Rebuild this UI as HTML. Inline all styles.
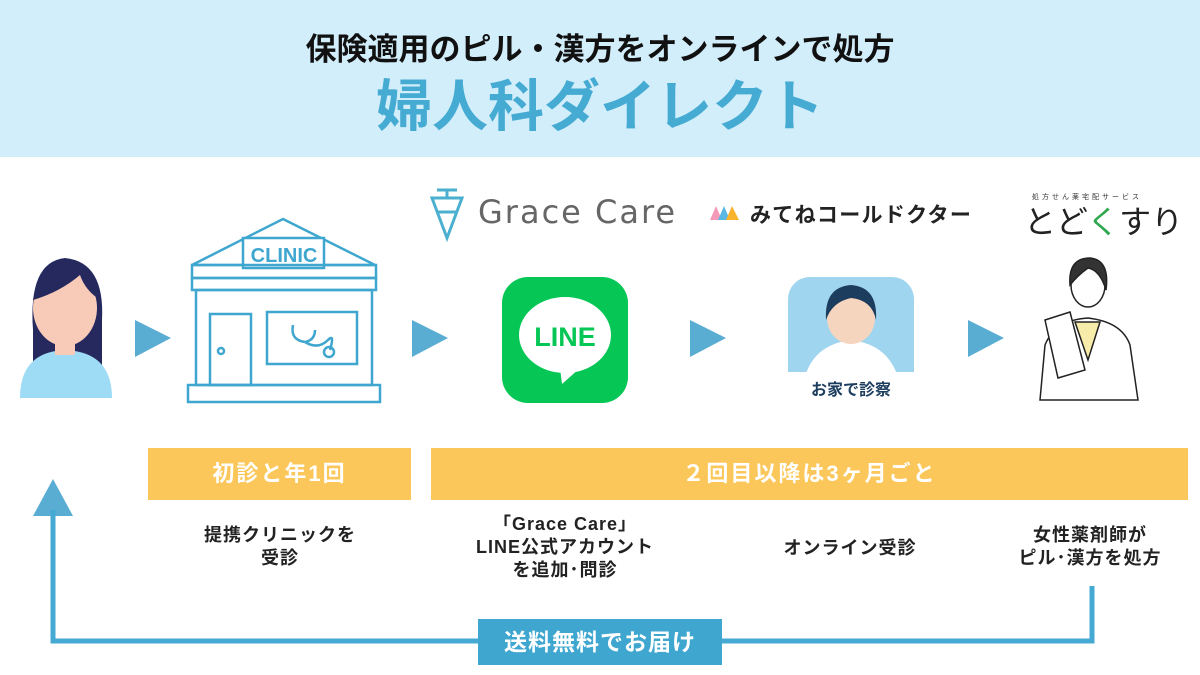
<!DOCTYPE html>
<html><head><meta charset="utf-8"><style>
body{margin:0;width:1200px;height:675px;overflow:hidden;background:#fff;font-family:"Liberation Sans","Noto Sans CJK JP",sans-serif;position:relative}
.hd{position:absolute;left:0;top:0;width:1200px;height:157px;background:#d3eefb}
.t1{position:absolute;top:24px;width:1200px;text-align:center;font-size:31px;font-weight:bold;color:#111;letter-spacing:0px}
.t2{position:absolute;top:62px;width:1200px;text-align:center;font-size:56px;font-weight:bold;color:#45abd2}
.bar{position:absolute;top:448px;height:52px;background:#fcc75a;color:#fff;font-weight:bold;font-size:22px;line-height:52px;text-align:center;letter-spacing:2px}
.lb{position:absolute;text-align:center;font-weight:bold;font-size:18px;line-height:23px;color:#222;letter-spacing:1px}
.ab{position:absolute;left:478px;top:619px;width:244px;height:46px;background:#3fa7cf;color:#fff;font-weight:bold;font-size:23px;line-height:46px;text-align:center;letter-spacing:1px}
</style></head><body>
<div class="hd"></div>
<div class="t1">保険適用のピル・漢方をオンラインで処方</div>
<div class="t2">婦人科ダイレクト</div>

<svg width="1200" height="675" style="position:absolute;left:0;top:0">
<g fill="#59add2">
<polygon points="135,320 171,338 135,357"/>
<polygon points="412,320 448,338 412,357"/>
<polygon points="690,320 726,338 690,357"/>
<polygon points="968,320 1004,338 968,357"/>
<polygon points="33,516 53,479 73,516"/>
</g>
<polyline points="53,510 53,641 1092,641 1092,586" fill="none" stroke="#45a9d3" stroke-width="5"/>
<!-- person -->
<path d="M33,330 Q28,262 65,258 Q105,262 102,320 L102,370 L33,370Z" fill="#26295e"/>
<path d="M20,398 Q20,352 65,350 Q112,352 112,398Z" fill="#9edcf5"/>
<rect x="55" y="330" width="20" height="25" fill="#f8cbb8"/>
<ellipse cx="65" cy="308" rx="32" ry="38" fill="#f8cbb8"/>
<path d="M33,300 Q40,262 70,264 Q100,270 100,300 Q85,290 80,275 Q60,292 33,300Z" fill="#26295e"/>
<!-- clinic -->
<g fill="none" stroke="#3fa7cf" stroke-width="2.5">
<polygon points="283,219 375,265 192,265"/>
<rect x="243" y="238" width="81" height="30" fill="#fff"/>
<rect x="192" y="265" width="184" height="13"/>
<rect x="192" y="278" width="184" height="12"/>
<rect x="196" y="290" width="176" height="95"/>
<rect x="210" y="314" width="41" height="71"/>
<circle cx="221" cy="351" r="3"/>
<rect x="267" y="312" width="90" height="52"/>
<path d="M293,325 Q290,340 305,342 Q315,340 315,330 M305,342 Q318,350 328,340 Q335,333 330,350"/>
<circle cx="329" cy="352" r="5"/>
<rect x="188" y="385" width="192" height="17"/>
</g>
<text x="284" y="262" text-anchor="middle" font-size="20" font-weight="bold" fill="#3fa7cf" font-family="Liberation Sans">CLINIC</text>
<!-- grace care logo -->
<g fill="none" stroke="#4bb0cf" stroke-width="3">
<line x1="437" y1="190" x2="457" y2="190"/><line x1="447" y1="190" x2="447" y2="197"/>
<path d="M432,198 L462,198 L447,238Z"/><path d="M438,212 L456,212"/>
</g>
<text x="478" y="223" font-size="32" fill="#666" font-family="DejaVu Sans" letter-spacing="2">Grace Care</text>
<!-- mitene -->
<g><polygon points="710,220 716,206 722,220" fill="#f49ab9"/><polygon points="718,220 724,206 730,220" fill="#5bb8e6"/><polygon points="726,220 732,206 739,220" fill="#f7b32b"/></g>
<text x="750" y="222" font-size="21" font-weight="bold" fill="#222" letter-spacing="1.3">みてねコールドクター</text>
<!-- LINE -->
<rect x="502" y="277" width="126" height="126" rx="26" fill="#06c755"/>
<ellipse cx="565" cy="335" rx="46" ry="38" fill="#fff"/>
<polygon points="560,368 580,368 562,384" fill="#fff"/>
<text x="565" y="346" text-anchor="middle" font-size="27" font-weight="bold" fill="#06c755" font-family="Liberation Sans">LINE</text>
<!-- doctor icon -->
<rect x="788" y="277" width="126" height="126" rx="22" fill="#9fd5ee"/>
<rect x="788" y="372" width="126" height="31" fill="#fff"/>
<path d="M803,385 Q810,345 851,340 Q892,345 900,385Z" fill="#fff"/>
<ellipse cx="851" cy="318" rx="24" ry="26" fill="#f6d5bf"/>
<path d="M826,320 Q824,287 851,285 Q878,287 876,320 Q872,300 851,298 Q832,302 826,320Z" fill="#1c3d5e"/>
<text x="851" y="395" text-anchor="middle" font-size="16" font-weight="bold" fill="#1c3d5e">お家で診察</text>
<!-- todokusuri -->
<text x="1032" y="199" font-size="7" fill="#333" letter-spacing="3">処方せん薬宅配サービス</text>
<text x="1024" y="233" font-size="32" fill="#222">と<tspan>ど</tspan><tspan fill="#2fa84f">く</tspan>すり</text>
<!-- pharmacist -->
<g stroke="#222" stroke-width="1.5">
<path d="M1040,400 L1045,345 Q1055,320 1088,318 Q1122,322 1130,345 L1138,400Z" fill="#fff"/>
<path d="M1075,322 L1088,360 L1100,322Z" fill="#f8ecaa"/>
<ellipse cx="1088" cy="285" rx="17" ry="22" fill="#fff"/>
<path d="M1070,285 Q1068,258 1090,258 Q1110,260 1106,290 Q1100,270 1088,268 Q1078,275 1070,285Z" fill="#333"/>
<polygon points="1045,320 1070,312 1085,370 1058,378" fill="#fff"/>
</g>
</svg>

<div class="bar" style="left:148px;width:263px">初診と年1回</div>
<div class="bar" style="left:431px;width:757px">２回目以降は3ヶ月ごと</div>

<div class="lb" style="left:180px;width:200px;top:524px">提携クリニックを<br>受診</div>
<div class="lb" style="left:450px;width:230px;top:513px">「Grace Care」<br>LINE公式アカウント<br>を追加･問診</div>
<div class="lb" style="left:750px;width:200px;top:537px">オンライン受診</div>
<div class="lb" style="left:990px;width:200px;top:524px">女性薬剤師が<br>ピル･漢方を処方</div>

<div class="ab">送料無料でお届け</div>
</body></html>
